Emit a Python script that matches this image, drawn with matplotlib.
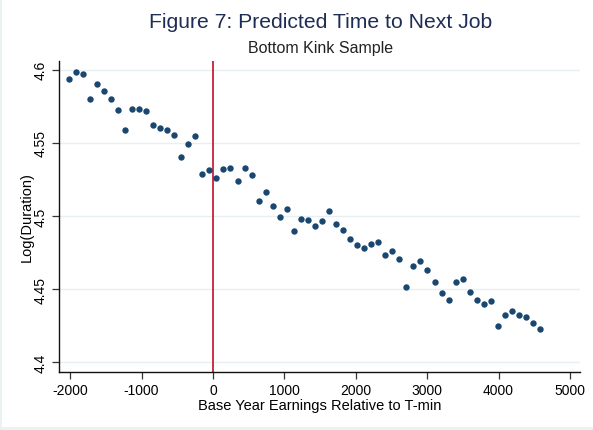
import numpy as np
import matplotlib
matplotlib.use('Agg')
import matplotlib.pyplot as plt
from matplotlib.patches import Rectangle

plt.rcParams['font.family'] = ['Liberation Sans', 'DejaVu Sans']
plt.rcParams['axes.unicode_minus'] = False

# binned earnings relative to T-min
earnings = [-2020, -1925, -1820, -1725, -1625, -1525, -1430, -1330, -1235, -1135,
            -1035, -940, -840, -740, -645, -545, -450, -350, -250, -155,
            -55, 45, 145, 240, 345, 445, 540, 640, 740, 835,
            935, 1030, 1130, 1230, 1325, 1425, 1520, 1620, 1720, 1815,
            1915, 2015, 2110, 2215, 2310, 2415, 2510, 2610, 2705, 2805,
            2905, 3000, 3105, 3205, 3300, 3400, 3495, 3595, 3695, 3790,
            3890, 3985, 4085, 4185, 4280, 4380, 4480, 4575]
log_duration = [4.5940, 4.5988, 4.5968, 4.5799, 4.5902, 4.5856, 4.5799, 4.5726, 4.5591, 4.5731,
                4.5735, 4.5719, 4.5625, 4.5603, 4.5589, 4.5557, 4.5406, 4.5495, 4.5546, 4.5288,
                4.5313, 4.5260, 4.5320, 4.5331, 4.5240, 4.5327, 4.5279, 4.5105, 4.5166, 4.5066,
                4.4995, 4.5046, 4.4897, 4.4982, 4.4973, 4.4932, 4.4968, 4.5032, 4.4945, 4.4902,
                4.4842, 4.4803, 4.4783, 4.4810, 4.4820, 4.4731, 4.4762, 4.4705, 4.4516, 4.4662,
                4.4692, 4.4630, 4.4550, 4.4473, 4.4427, 4.4550, 4.4568, 4.4484, 4.4425, 4.4399,
                4.4416, 4.4249, 4.4324, 4.4349, 4.4327, 4.4308, 4.4272, 4.4231]

xticks = [-2000, -1000, 0, 1000, 2000, 3000, 4000, 5000]
yticks = [4.4, 4.45, 4.5, 4.55, 4.6]
ytick_labels = ['4.4', '4.45', '4.5', '4.55', '4.6']
kink = 0

fig = plt.figure(figsize=(5.93, 4.31), dpi=100, facecolor='#eaf2f3')
fig.patches.append(Rectangle((2 / 593, 3 / 431), 1, 1, transform=fig.transFigure,
                             facecolor='white', edgecolor='none', zorder=-10))

ax = fig.add_axes([59 / 593, (431 - 372.7) / 431, (580 - 59) / 593, (372.7 - 62) / 431])
ax.set_facecolor('white')

ax.axvline(kink, color='#c8203c', lw=1.3, zorder=2)
ax.plot(earnings, log_duration, 'o', color='#1a476f', markersize=4.6,
        markeredgewidth=0, zorder=3)

ax.set_xlim(-2157, 5140)
ax.set_ylim(4.3936, 4.606)
ax.set_xticks(xticks)
ax.set_yticks(yticks)
ax.set_yticklabels(ytick_labels, rotation=90, va='center')
ax.tick_params(axis='both', direction='out', length=5, width=0.9, color='#333333',
               labelsize=10, pad=3)
ax.grid(axis='y', color='#e6eff1', lw=1)
ax.set_axisbelow(True)

for s in ['top', 'right']:
    ax.spines[s].set_visible(False)
for s in ['left', 'bottom']:
    ax.spines[s].set_color('#111111')
    ax.spines[s].set_linewidth(1.0)

ax.set_xlabel('Base Year Earnings Relative to T-min', fontsize=10.5, labelpad=1)
ax.set_ylabel('Log(Duration)', fontsize=10.5)
ax.yaxis.set_label_coords(-0.048, 0.5)

fig.text(321 / 593, 1 - 23 / 431, 'Figure 7: Predicted Time to Next Job', ha='center',
         va='center', fontsize=15.2, color='#1e2d55')
fig.text(321 / 593, 1 - 48 / 431, 'Bottom Kink Sample', ha='center', va='center',
         fontsize=11.5, color='#222222')

fig.savefig('out.png', dpi=100, facecolor=fig.get_facecolor())
